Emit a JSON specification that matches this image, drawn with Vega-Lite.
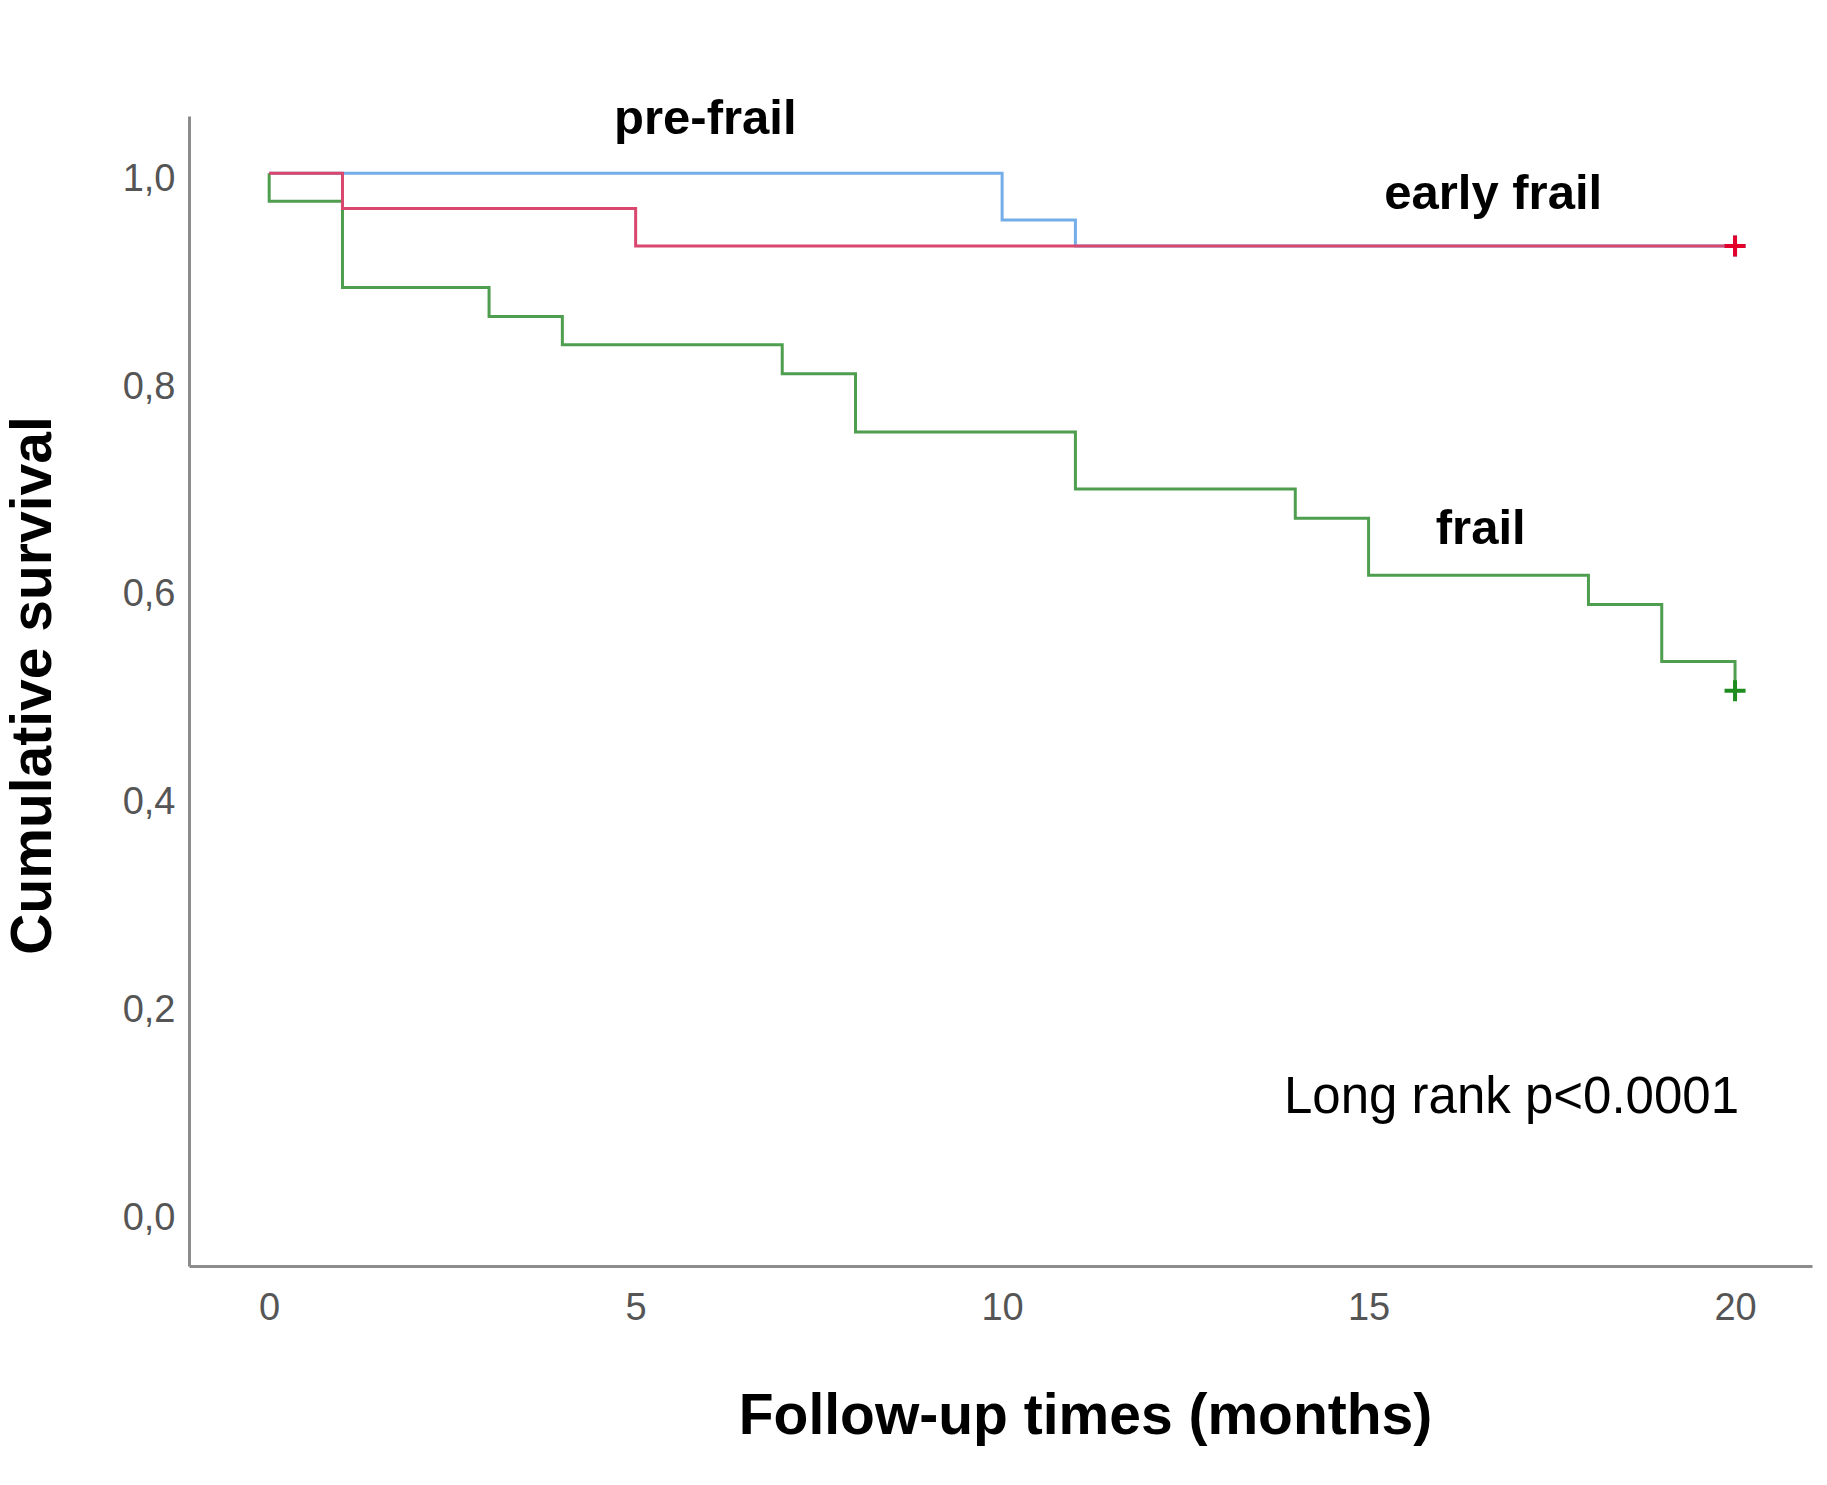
{
  "$schema": "https://vega.github.io/schema/vega-lite/v6.json",
  "autosize": {"type": "none"},
  "padding": {"left": 189, "top": 116, "right": 15, "bottom": 219},
  "width": 1623,
  "height": 1150,
  "background": "white",
  "config": {
    "view": {"stroke": null},
    "font": "Liberation Sans"
  },
  "datasets": {
    "prefrail": [
      {"t": 0, "s": 1.0, "i": 0},
      {"t": 10, "s": 0.955, "i": 1},
      {"t": 11, "s": 0.93, "i": 2},
      {"t": 20, "s": 0.93, "i": 3}
    ],
    "earlyfrail": [
      {"t": 0, "s": 1.0, "i": 0},
      {"t": 1, "s": 0.966, "i": 1},
      {"t": 5, "s": 0.93, "i": 2},
      {"t": 20, "s": 0.93, "i": 3}
    ],
    "frail": [
      {"t": 0, "s": 1.0, "i": 0},
      {"t": 0, "s": 0.973, "i": 1},
      {"t": 1, "s": 0.89, "i": 2},
      {"t": 3, "s": 0.862, "i": 3},
      {"t": 4, "s": 0.835, "i": 4},
      {"t": 7, "s": 0.807, "i": 5},
      {"t": 8, "s": 0.751, "i": 6},
      {"t": 11, "s": 0.696, "i": 7},
      {"t": 14, "s": 0.668, "i": 8},
      {"t": 15, "s": 0.613, "i": 9},
      {"t": 18, "s": 0.585, "i": 10},
      {"t": 19, "s": 0.53, "i": 11},
      {"t": 20, "s": 0.502, "i": 12}
    ],
    "censor": [
      {"group": "pre-frail", "t": 20, "s": 0.93},
      {"group": "early frail", "t": 20, "s": 0.93},
      {"group": "frail", "t": 20, "s": 0.502}
    ],
    "labels": [
      {"label": "pre-frail", "t": 5.95, "s": 1.052},
      {"label": "early frail", "t": 16.7, "s": 0.98},
      {"label": "frail", "t": 16.53, "s": 0.658}
    ],
    "note": [
      {"label": "Long rank p<0.0001", "t": 16.95, "s": 0.11}
    ]
  },
  "encoding": {
    "x": {
      "field": "t",
      "type": "quantitative",
      "scale": {"domain": [-1.094, 21.05], "nice": false, "zero": false},
      "axis": {
        "values": [0, 5, 10, 15, 20],
        "ticks": false,
        "grid": false,
        "domainColor": "#8c8c8c",
        "domainWidth": 3,
        "labelFont": "Liberation Sans",
        "labelFontSize": 38,
        "labelColor": "#555555",
        "labelPadding": 23,
        "labelBaseline": "top",
        "title": "Follow-up times (months)",
        "titleFont": "Liberation Sans",
        "titleFontSize": 57,
        "titleFontWeight": "bold",
        "titleColor": "#000000",
        "titleX": 896,
        "titleY": 150,
        "titleAlign": "center",
        "titleBaseline": "middle"
      }
    },
    "y": {
      "field": "s",
      "type": "quantitative",
      "scale": {"domain": [-0.0516, 1.055], "nice": false, "zero": false},
      "axis": {
        "values": [0, 0.2, 0.4, 0.6, 0.8, 1.0],
        "labelExpr": "replace(format(datum.value, '.1f'), '.', ',')",
        "ticks": false,
        "grid": false,
        "domainColor": "#8c8c8c",
        "domainWidth": 3,
        "labelFont": "Liberation Sans",
        "labelFontSize": 38,
        "labelColor": "#555555",
        "labelPadding": 14,
        "labelOffset": 6,
        "labelBaseline": "middle",
        "title": "Cumulative survival",
        "titleFont": "Liberation Sans",
        "titleFontSize": 57,
        "titleFontWeight": "bold",
        "titleColor": "#000000",
        "titleAngle": -90,
        "titleX": -156,
        "titleY": 569,
        "titleAlign": "center",
        "titleBaseline": "middle"
      }
    }
  },
  "layer": [
    {
      "data": {"name": "prefrail"},
      "mark": {"type": "line", "interpolate": "step-after", "color": "#74aee8", "strokeWidth": 3, "clip": false},
      "encoding": {"order": {"field": "i", "type": "quantitative"}}
    },
    {
      "data": {"name": "frail"},
      "mark": {"type": "line", "interpolate": "step-after", "color": "#4f9e4f", "strokeWidth": 3, "clip": false},
      "encoding": {"order": {"field": "i", "type": "quantitative"}}
    },
    {
      "data": {"name": "earlyfrail"},
      "mark": {"type": "line", "interpolate": "step-after", "color": "#d9466e", "strokeWidth": 3, "clip": false},
      "encoding": {"order": {"field": "i", "type": "quantitative"}}
    },
    {
      "data": {"name": "censor"},
      "mark": {"type": "point", "shape": "M-1,0H1M0,-1V1", "size": 441, "strokeWidth": 4, "filled": false, "opacity": 1},
      "encoding": {
        "color": {
          "field": "group",
          "type": "nominal",
          "scale": {"domain": ["pre-frail", "early frail", "frail"], "range": ["#5c9de0", "#e3002b", "#1e8c1e"]},
          "legend": null
        },
        "order": {"field": "s", "type": "quantitative"}
      }
    },
    {
      "data": {"name": "labels"},
      "mark": {"type": "text", "font": "Liberation Sans", "fontSize": 49, "fontWeight": "bold", "color": "#000000", "align": "center", "baseline": "middle", "clip": false},
      "encoding": {"text": {"field": "label"}}
    },
    {
      "data": {"name": "note"},
      "mark": {"type": "text", "font": "Liberation Sans", "fontSize": 51, "color": "#000000", "align": "center", "baseline": "middle", "clip": false},
      "encoding": {"text": {"field": "label"}}
    }
  ]
}
